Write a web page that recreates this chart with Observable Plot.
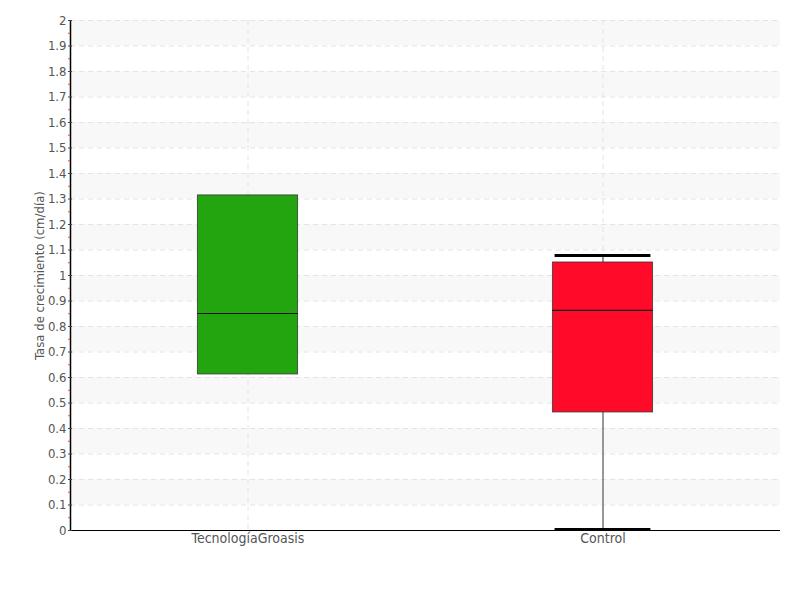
<!DOCTYPE html>
<html><head><meta charset="utf-8">
<script src="https://cdn.jsdelivr.net/npm/d3@7"></script>
<script src="https://cdn.jsdelivr.net/npm/@observablehq/plot@0.6"></script>
<style>body{margin:0;background:#fff}</style></head>
<body><div id="chart"></div>
<script>
const categories = ["TecnologíaGroasis", "Control"];
const q1 = [0.612, 0.463];
const median = [0.851, 0.863];
const q3 = [1.314, 1.051];
const whiskerLow = [null, 0.004];
const whiskerHigh = [null, 1.078];
const colors = ["#22a50f", "#ff0a28"];
const yTicks = d3.range(0, 21).map(i => i / 10);
const yMinor = d3.range(0, 20).map(i => (i + 0.5) / 10);
const yLabel = "Tasa de crecimiento (cm/día)";

const boxes = categories.map((c, i) => ({i, c, q1: q1[i], med: median[i], q3: q3[i], lo: whiskerLow[i], hi: whiskerHigh[i], color: colors[i]}));
const withWhiskers = boxes.filter(d => d.lo != null);
const bands = yTicks.slice(1).filter((d, i) => i % 2 === 0);
const hw = 0.141, cw = 0.135;
const font = "'DejaVu Sans Condensed', 'DejaVu Sans', sans-serif";

const chart = Plot.plot({
  width: 800, height: 600,
  marginLeft: 70, marginRight: 20, marginTop: 20, marginBottom: 70,
  style: {fontFamily: font, fontSize: "13px", color: "#555", background: "#fff"},
  x: {domain: [-0.5, 1.5], axis: null},
  y: {domain: [0, 2], axis: null},
  color: {type: "identity"},
  marks: [
    Plot.rect(bands, {y1: d => d, y2: d => d + 0.1, fill: "#f8f8f8"}),
    Plot.ruleY(yTicks, {stroke: "#e4e4e4", strokeDasharray: "5,4"}),
    Plot.ruleX(boxes, {x: "i", stroke: "#e4e4e4", strokeDasharray: "5,4"}),
    Plot.ruleX(withWhiskers, {x: "i", y1: "lo", y2: "hi", stroke: "#777", strokeWidth: 1.5}),
    Plot.rect(boxes, {x1: d => d.i - hw, x2: d => d.i + hw, y1: "q1", y2: "q3", fill: d => d.color, stroke: "#333", strokeOpacity: 0.8}),
    Plot.ruleY(boxes, {x1: d => d.i - hw, x2: d => d.i + hw, y: "med", stroke: "#111", strokeWidth: 1.2}),
    Plot.ruleY(withWhiskers, {x1: d => d.i - cw, x2: d => d.i + cw, y: "hi", stroke: "#000", strokeWidth: 3}),
    Plot.ruleY(withWhiskers, {x1: d => d.i - cw, x2: d => d.i + cw, y: "lo", stroke: "#000", strokeWidth: 3}),
    Plot.ruleX([-0.5], {stroke: "#000", strokeWidth: 1.5}),
    Plot.ruleY([0], {stroke: "#000", strokeWidth: 1.2}),
    Plot.axisY(yMinor, {tickSize: 2, stroke: "#f44", tickFormat: () => "", label: null}),
    Plot.axisY(yTicks, {tickSize: 4, dx: 2, tickPadding: 2, stroke: "#444", fill: "#555", fontSize: 13, tickFormat: d => String(+d.toFixed(1)), label: null}),
    Plot.axisX([0, 1], {tickSize: 0, tickPadding: 3, fill: "#555", fontSize: 14, tickFormat: i => categories[i], label: null}),
    Plot.text([yLabel], {frameAnchor: "left", textAnchor: "middle", rotate: -90, dx: -31, fill: "#555", fontSize: 13})
  ]
});
document.getElementById("chart").appendChild(chart);
</script>
</body></html>
